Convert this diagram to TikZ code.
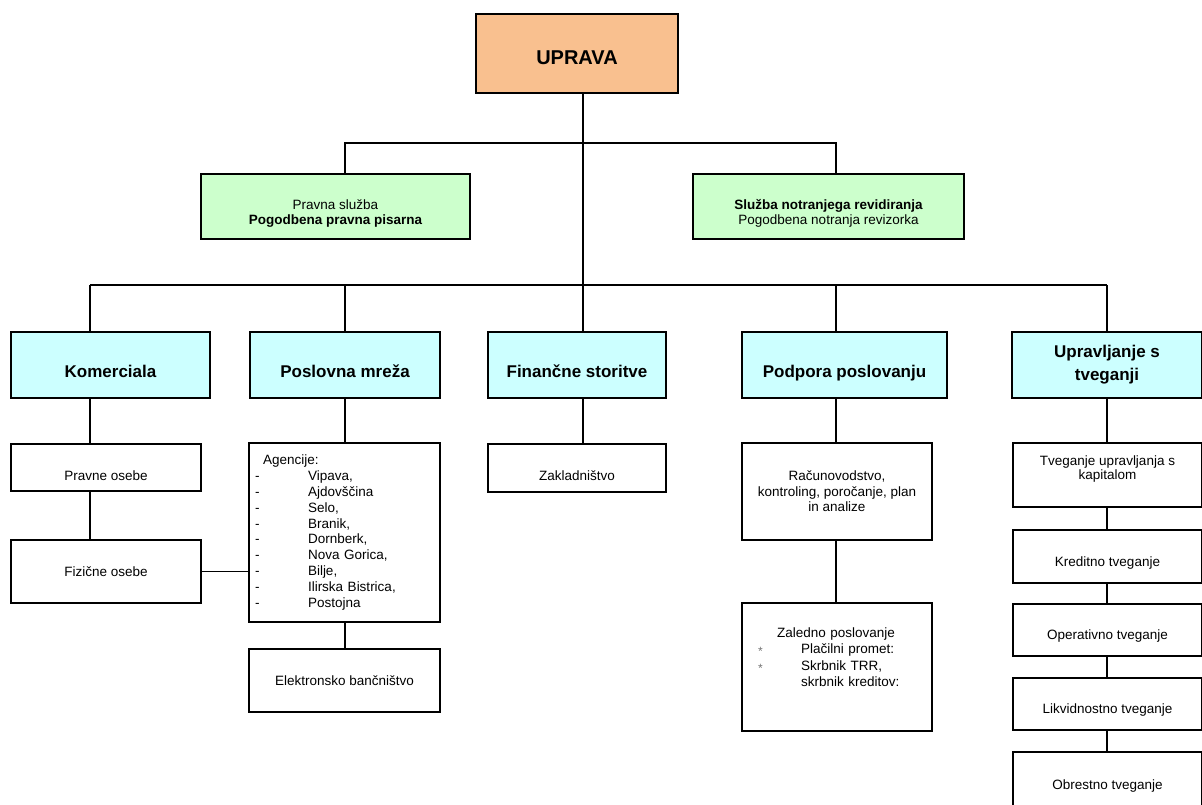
\documentclass[tikz,border=0pt]{standalone}
\usepackage{fontspec}
\setmainfont{Liberation Sans}
\usepackage{tikz}
\usetikzlibrary{positioning}
\definecolor{peach}{RGB}{249,192,143}
\definecolor{mint}{RGB}{204,255,204}
\definecolor{skyc}{RGB}{204,255,255}

\begin{document}
\begin{tikzpicture}[
  x=1pt, y=-1pt,
  every node/.style={font=\fontsize{13.5}{15.5}\selectfont},
  line/.style={line width=1.2pt},
  headbox/.style={draw, line width=1.4pt, fill=peach, minimum width=202pt, minimum height=79pt, inner sep=0pt,
    text height=22pt, text depth=0pt, font=\fontsize{20}{24}\selectfont\bfseries},
  staffbox/.style={draw, line width=1.4pt, fill=mint, align=center, minimum height=65pt, inner sep=0pt},
  deptbox/.style={draw, line width=1.4pt, fill=skyc, align=center, minimum height=66pt, inner sep=0pt, font=\fontsize{17}{23}\selectfont\bfseries},
  oneline/.style={text height=29pt, text depth=4pt},
  unitbox/.style={draw, line width=1.4pt, fill=white, align=center, minimum width=190pt, inner sep=0pt},
  nudge/.style={text height=#1, text depth=3pt},
]
\newcommand\zstar{\makebox[43pt][l]{\textcolor{black!55}{\fontsize{12}{12}\selectfont\raisebox{-2pt}{*}}}}
\useasboundingbox (0,0) rectangle (1202,804);

\node[headbox] (uprava) at (577,53.5) {UPRAVA};

\node[staffbox, minimum width=269pt] (pravna) at (335.5,206.5) {\rule{0pt}{24pt}Pravna služba\\\textbf{Pogodbena pravna pisarna}};
\node[staffbox, minimum width=271pt] (revizija) at (828.5,206.5) {\rule{0pt}{24pt}\textbf{Služba notranjega revidiranja}\\Pogodbena notranja revizorka};

\node[deptbox, oneline, minimum width=199pt] (komerc) at (110.5,365) {Komerciala};
\node[deptbox, oneline, minimum width=190pt] (mreza) at (345,365) {Poslovna mreža};
\node[deptbox, oneline, minimum width=178pt] (finance) at (577,365) {Finančne storitve};
\node[deptbox, oneline, minimum width=205pt] (podpora) at (844.5,365) {Podpora poslovanju};
\node[deptbox, minimum width=190pt] (tveg) at (1107,365) {Upravljanje s\\tveganji};

\node[unitbox, nudge=28.7pt, minimum height=47pt] (pravne) at (106,467.5) {Pravne osebe};
\node[unitbox, minimum height=63pt] (fizicne) at (106,571.5) {Fizične osebe};

\node[unitbox, minimum width=191pt, minimum height=179pt, text width=179pt, inner xsep=6pt, align=left,
  font=\fontsize{13.5}{15.9}\selectfont] (agencije) at (344.5,532.5) {%
  \hspace*{8pt}Agencije:\\
  \makebox[53pt][l]{-}Vipava,\\
  \makebox[53pt][l]{-}Ajdovščina\\
  \makebox[53pt][l]{-}Selo,\\
  \makebox[53pt][l]{-}Branik,\\
  \makebox[53pt][l]{-}Dornberk,\\
  \makebox[53pt][l]{-}Nova Gorica,\\
  \makebox[53pt][l]{-}Bilje,\\
  \makebox[53pt][l]{-}Ilirska Bistrica,\\
  \makebox[53pt][l]{-}Postojna};
\node[unitbox, minimum width=191pt, minimum height=63pt] (ebank) at (344.5,680.5) {Elektronsko bančništvo};

\node[unitbox, nudge=27.7pt, minimum width=178pt, minimum height=48pt] (zaklad) at (577,468) {Zakladništvo};

\node[unitbox, minimum height=97pt] (racun) at (837,491.5) {Računovodstvo,\\kontroling, poročanje, plan\\in analize};
\node[unitbox, minimum height=128pt, text width=158pt, inner xsep=16pt, align=left,
  font=\fontsize{13.5}{16.3}\selectfont] (zaledno) at (837,667) {%
  \hspace*{19pt}Zaledno poslovanje\\
  \zstar Plačilni promet:\\
  \zstar Skrbnik TRR,\\
  \hspace*{43pt}skrbnik kreditov:\rule[-20pt]{0pt}{1pt}};

\node[unitbox, minimum width=189pt, minimum height=64pt, font=\fontsize{13.5}{14.6}\selectfont] (rk1) at (1107.5,475) {Tveganje upravljanja s\\kapitalom\rule[-15pt]{0pt}{1pt}};
\node[unitbox, nudge=22.7pt, minimum width=189pt, minimum height=53pt] (rk2) at (1107.5,556.5) {Kreditno tveganje};
\node[unitbox, nudge=22.7pt, minimum width=189pt, minimum height=52pt] (rk3) at (1107.5,630) {Operativno tveganje};
\node[unitbox, nudge=22.7pt, minimum width=189pt, minimum height=52pt] (rk4) at (1107.5,704) {Likvidnostno tveganje};
\node[unitbox, nudge=24pt, minimum width=189pt, minimum height=54pt] (rk5) at (1107.5,779) {Obrestno tveganje};

\coordinate (sb) at (583,143);
\coordinate (c1) at (90,285);
\coordinate (c2) at (345,285);
\coordinate (c3) at (583,285);
\coordinate (c4) at (836,285);
\coordinate (c5) at (1107,285);

\draw[line] (uprava.south -| c3) -- (c3);
\draw[line] (pravna.north -| c2) -- (c2 |- sb) -- (c4 |- sb) -- (revizija.north -| c4);
\draw[line] (c1) -- (c5);
\foreach \c/\n in {c1/komerc, c2/mreza, c3/finance, c4/podpora, c5/tveg}
  \draw[line] (\c) -- (\c |- \n.north);

\draw[line] (komerc.south -| c1) -- (pravne.north -| c1);
\draw[line] (pravne.south -| c1) -- (fizicne.north -| c1);
\draw[line] (fizicne.east) -- (agencije.west |- fizicne.east);
\draw[line] (mreza.south -| c2) -- (agencije.north -| c2);
\draw[line] (agencije.south -| c2) -- (ebank.north -| c2);
\draw[line] (finance.south -| c3) -- (zaklad.north -| c3);
\draw[line] (podpora.south -| c4) -- (racun.north -| c4);
\draw[line] (racun.south -| c4) -- (zaledno.north -| c4);
\draw[line] (tveg.south -| c5) -- (rk1.north -| c5);
\foreach \a/\b in {rk1/rk2, rk2/rk3, rk3/rk4, rk4/rk5}
  \draw[line] (\a.south -| c5) -- (\b.north -| c5);

\end{tikzpicture}
\end{document}
